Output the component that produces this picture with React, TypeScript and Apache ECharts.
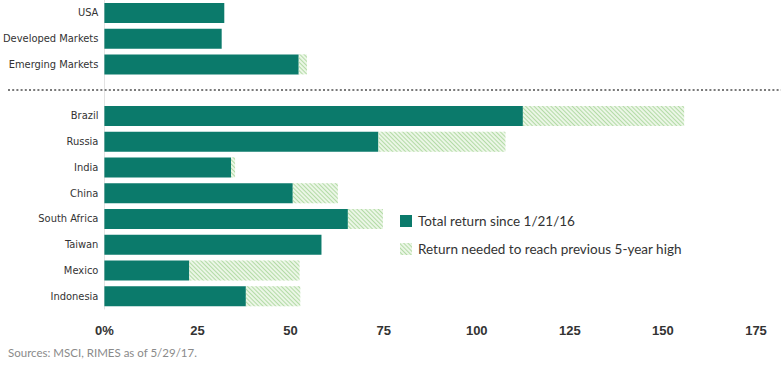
import React, { useEffect, useRef } from "react";
import * as echarts from "echarts";

const categories = [
  "USA",
  "Developed Markets",
  "Emerging Markets",
  "",
  "Brazil",
  "Russia",
  "India",
  "China",
  "South Africa",
  "Taiwan",
  "Mexico",
  "Indonesia",
];

// Total return since 1/21/16 (%)
const totalReturn = [32.2, 31.5, 52.2, null, 112.4, 73.6, 34.0, 50.6, 65.4, 58.3, 22.8, 38.0];
// Additional return needed to reach previous 5-year high (%), stacked on top
const neededReturn = [0, 0, 2.2, null, 43.3, 34.1, 1.1, 12.1, 9.4, 0, 29.6, 14.6];

const xTicks = [0, 25, 50, 75, 100, 125, 150, 175];

const seriesNames = ["Total return since 1/21/16", "Return needed to reach previous 5-year high"];
const sourceText = "Sources: MSCI, RIMES as of 5/29/17.";

export default function App() {
  const ref = useRef<HTMLDivElement>(null);
  useEffect(() => {
    if (!ref.current) return;
    const chart = echarts.init(ref.current, undefined, { renderer: "svg" });
    chart.setOption({
      animation: false,
      grid: { left: 102, right: 25, top: 0, height: 309 },
      xAxis: {
        type: "value",
        min: 0,
        max: 175,
        interval: 25,
        splitLine: { show: false },
        axisLine: { show: false },
        axisTick: { show: false },
        axisLabel: {
          margin: 15,
          color: "#333",
          fontFamily: "Liberation Sans",
          fontWeight: "bold",
          fontSize: 13,
          formatter: (v: number) => (v === xTicks[0] ? v + "%" : String(v)),
        },
      },
      yAxis: {
        type: "category",
        data: categories,
        inverse: true,
        axisLine: { show: true, lineStyle: { color: "#e3e3e3", width: 1 } },
        axisTick: { show: false },
        axisLabel: {
          margin: 6,
          color: "#333",
          fontFamily: "'Liberation Sans Narrow', 'DejaVu Sans Condensed', Roboto",
          fontSize: 11,
        },
      },
      legend: {
        orient: "vertical",
        left: 395,
        top: 209,
        itemWidth: 12,
        itemHeight: 12,
        itemGap: 14,
        icon: "rect",
        selectedMode: false,
        textStyle: {
          color: "#333",
          fontFamily: "Lato",
          fontSize: 13.5,
          padding: [0, 0, 0, 1],
        },
        data: seriesNames,
      },
      series: [
        {
          name: seriesNames[0],
          type: "bar",
          stack: "a",
          barWidth: 20,
          data: totalReturn,
          itemStyle: { color: "#0b7a6b" },
        },
        {
          name: seriesNames[1],
          type: "bar",
          stack: "a",
          barWidth: 20,
          data: neededReturn,
          itemStyle: {
            color: "#ebf6e6",
            decal: {
              symbol: "rect",
              color: "#b3dba6",
              dashArrayX: [1, 0],
              dashArrayY: [1, 1.3],
              rotation: Math.PI / 4,
            },
          },
        },
      ],
      graphic: [
        {
          type: "line",
          shape: { x1: 8, y1: 90, x2: 781, y2: 90 },
          style: { stroke: "#7a7a7a", lineWidth: 2, lineDash: [2, 2.2] },
          z: 10,
        },
        {
          type: "text",
          left: 8,
          top: 346,
          style: {
            text: sourceText,
            fill: "#8a8a8a",
            font: "11.5px Lato",
          },
        },
      ],
    });
    return () => chart.dispose();
  }, []);
  return <div ref={ref} style={{ width: 781, height: 372, position: "absolute", left: 0, top: 0 }} />;
}
